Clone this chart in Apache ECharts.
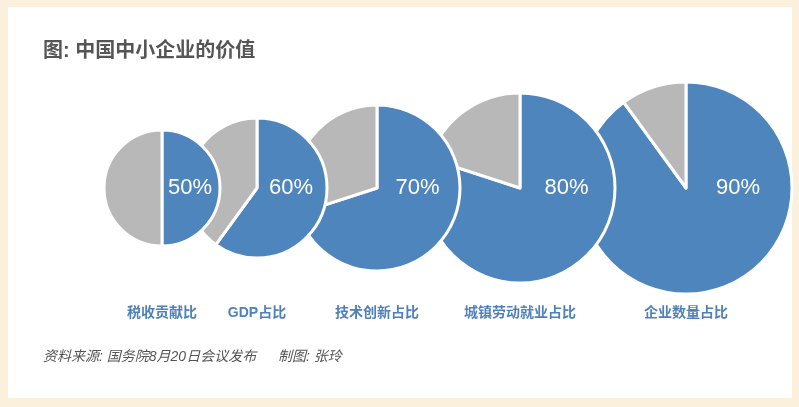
<!DOCTYPE html>
<html><head><meta charset="utf-8">
<script src="https://cdn.jsdelivr.net/npm/echarts@6/dist/echarts.min.js"></script>
<style>html,body{margin:0;padding:0;background:#faf0dc;}#c{width:799px;height:407px;}</style>
</head><body><div id="c"></div>
<script>
var categories = ['税收贡献比', 'GDP占比', '技术创新占比', '城镇劳动就业占比', '企业数量占比'];
var values = [50, 60, 70, 80, 90];
var titleText = '图: 中国中小企业的价值';
var sourceText = '资料来源: 国务院8月20日会议发布';
var authorText = '制图: 张玲';

var centersX = [162, 257, 377, 520, 686];
var radii = [58, 70, 83, 95, 106];
var cy = 188;
var BLUE = '#4e85bd', GRAY = '#b8b8b8', FONT = '"Liberation Sans", "Noto Sans CJK SC", sans-serif';

var chart = echarts.init(document.getElementById('c'));
var series = values.map(function (v, i) {
  return {
    type: 'pie',
    z: 10 - i,
    center: [centersX[i], cy],
    radius: [0, radii[i]],
    startAngle: 90,
    clockwise: true,
    animation: false,
    silent: true,
    itemStyle: { borderColor: '#fff', borderWidth: 3 },
    label: { show: false },
    labelLine: { show: false },
    labelLayout: function () {
      return { x: centersX[i] + radii[i] / 2 - 1, y: cy, align: 'center', verticalAlign: 'middle' };
    },
    data: [
      { value: v, itemStyle: { color: BLUE },
        label: { show: true, position: 'inside', formatter: v + '%', color: '#fff', fontSize: 22, fontFamily: FONT } },
      { value: 100 - v, itemStyle: { color: GRAY }, label: { show: false } }
    ]
  };
});

var graphics = [
  { type: 'rect', shape: { x: 8, y: 7, width: 784, height: 391 }, style: { fill: '#ffffff' }, z: -10, silent: true },
  { type: 'text', left: 43, top: 41, style: { text: titleText, fill: '#555555', font: 'bold 20px ' + FONT } },
  { type: 'text', left: 43, top: 350, style: { text: sourceText, fill: '#555555', font: 'italic 14px ' + FONT } },
  { type: 'text', left: 278, top: 350, style: { text: authorText, fill: '#555555', font: 'italic 14px ' + FONT } }
];
categories.forEach(function (c, i) {
  graphics.push({ type: 'text', x: centersX[i], y: 313,
    style: { text: c, fill: '#4f80b9', font: 'bold 14px ' + FONT, align: 'center', verticalAlign: 'middle' } });
});

chart.setOption({
  backgroundColor: '#faf0dc',
  animation: false,
  graphic: graphics,
  series: series
});
</script></body></html>
